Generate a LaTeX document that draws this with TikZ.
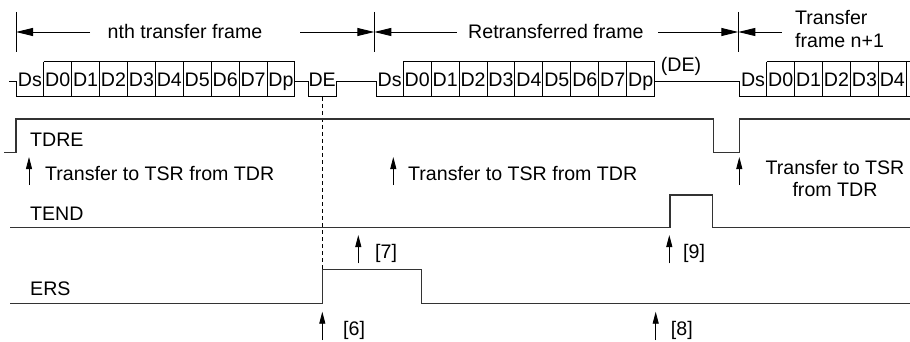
\documentclass[tikz,border=0pt]{standalone}
\usepackage{fontspec}
\setmainfont{Liberation Sans}
\usetikzlibrary{arrows.meta}
\begin{document}
\begin{tikzpicture}[x=1pt,y=-1pt,
  lbl/.style={inner sep=0pt,font=\fontsize{19.6}{21}\selectfont},
  cell/.style={inner sep=0pt,anchor=base,font=\fontsize{19.6}{21}\selectfont},
  wave/.style={line width=1.4pt,draw=black!80},
  data/.style={line width=1pt,draw=black},
  dim/.style={line width=0.9pt,-{Triangle[length=17pt,width=8pt]}},
  tick/.style={line width=0.9pt},
  evt/.style={line width=0.9pt,-{Triangle[length=12pt,width=6pt]}}]
\useasboundingbox (0,0) rectangle (910,342);
% ---------- frame dimension arrows ----------
\coordinate (b1) at (16,32); \coordinate (b2) at (374.3,32); \coordinate (b3) at (738.3,32);
\draw[tick] (16,12) -- (16,52);
\draw[tick] (374.3,12) -- (374.3,52);
\draw[tick] (738.3,12) -- (738.3,52);
\coordinate (a1) at (90,32); \coordinate (a2) at (300,32);
\coordinate (a3) at (456.7,32); \coordinate (a4) at (658,32); \coordinate (a5) at (781.7,32);
\draw[dim] (a1) -- (b1);
\draw[dim] (a2) -- (b2);
\draw[dim] (a3) -- (b2);
\draw[dim] (a4) -- (b3);
\draw[dim] (a5) -- (b3);
\node[lbl,anchor=base] (fn) at (185,39) {nth transfer frame};
\node[lbl,anchor=base west] (fr) at (468,39) {Retransferred frame};
\node[lbl,anchor=base west] (f1a) at (795,25) {Transfer};
\node[lbl,anchor=base west] (f1b) at (795,48) {frame n+1};
% ---------- data row ----------
\def\cw{27.92}
% frame n
\draw[data] (9.3,82) -- (16,82) -- (16,97) -- (295,97);
\draw[data] (43.7,62) -- (295,62);
\foreach \k in {0,...,9} \draw[data] ({43.7+\k*\cw},62) -- ({43.7+\k*\cw},97);
\node[cell] (n0) at (29.85,86.7) {Ds};
\foreach \t [count=\k from 0] in {D0,D1,D2,D3,D4,D5,D6,D7,Dp}
  \node[cell] (n\t) at ({43.7+(\k+0.5)*\cw},86.7) {\t};
% DE
\draw[data] (295,82) -- (308.3,82) -- (308.3,97) -- (336,97) -- (336,82) -- (376,82) -- (376,97) -- (654.6,97);
\node[cell] (de) at (322.2,86.7) {DE};
% retransferred frame
\draw[data] (403.3,62) -- (654.6,62);
\foreach \k in {0,...,9} \draw[data] ({403.3+\k*\cw},62) -- ({403.3+\k*\cw},97);
\node[cell] (r0) at (389.6,86.7) {Ds};
\foreach \t [count=\k from 0] in {D0,D1,D2,D3,D4,D5,D6,D7,Dp}
  \node[cell] (r\t) at ({403.3+(\k+0.5)*\cw},86.7) {\t};
% idle + frame n+1
\draw[data] (654.6,82) -- (739.3,82) -- (739.3,97) -- (910,97);
\node[cell] (dep) at (681,72) {(DE)};
\draw[data] (766.7,62) -- (910,62);
\foreach \k in {0,...,5} \draw[data] ({766.7+\k*\cw},62) -- ({766.7+\k*\cw},97);
\node[cell] (m0) at (753,86.7) {Ds};
\foreach \t [count=\k from 0] in {D0,D1,D2,D3,D4}
  \node[cell] (m\t) at ({766.7+(\k+0.5)*\cw},86.7) {\t};
% ---------- dashed marker ----------
\draw[line width=0.8pt,dash pattern=on 4pt off 3pt] (322.5,97) -- (322.5,269.3);
% ---------- TDRE ----------
\draw[wave] (4,152.3) -- (16,152.3) -- (16,119) -- (713.3,119) -- (713.3,152.3) -- (739.3,152.3) -- (739.3,119) -- (910,119);
\node[lbl,anchor=base west] (tdre) at (30,146.7) {TDRE};
\coordinate (t1s) at (29,185); \coordinate (t1e) at (29,157);
\draw[evt] (t1s) -- (t1e);
\node[lbl,anchor=base west] (tx1) at (45,180) {Transfer to TSR from TDR};
\coordinate (t2s) at (393.3,185); \coordinate (t2e) at (393.3,157);
\draw[evt] (t2s) -- (t2e);
\node[lbl,anchor=base west] (tx2) at (408,180) {Transfer to TSR from TDR};
\coordinate (t3s) at (739.3,185); \coordinate (t3e) at (739.3,157);
\draw[evt] (t3s) -- (t3e);
\node[lbl,anchor=base] (tx3a) at (835,175) {Transfer to TSR};
\node[lbl,anchor=base] (tx3b) at (835,196.7) {from TDR};
% ---------- TEND ----------
\draw[wave] (10,227.7) -- (670,227.7) -- (670,195) -- (712.7,195) -- (712.7,227.7) -- (910,227.7);
\node[lbl,anchor=base west] (tend) at (30,220) {TEND};
% ---------- ERS ----------
\draw[wave] (10,303.3) -- (322.3,303.3) -- (322.3,269.3) -- (421.7,269.3) -- (421.7,303.3) -- (910,303.3);
\node[lbl,anchor=base west] (ers) at (30,295) {ERS};
% ---------- event arrows ----------
\coordinate (e7s) at (358.3,263.3); \coordinate (e7e) at (358.3,235);
\draw[evt] (e7s) -- (e7e);
\node[lbl,anchor=base west] (l7) at (375,258) {[7]};
\coordinate (e6s) at (322.3,340); \coordinate (e6e) at (322.3,311.7);
\draw[evt] (e6s) -- (e6e);
\node[lbl,anchor=base west] (l6) at (343,335) {[6]};
\coordinate (e9s) at (669.3,263.3); \coordinate (e9e) at (669.3,235);
\draw[evt] (e9s) -- (e9e);
\node[lbl,anchor=base west] (l9) at (683,258) {[9]};
\coordinate (e8s) at (655.7,340); \coordinate (e8e) at (655.7,311.7);
\draw[evt] (e8s) -- (e8e);
\node[lbl,anchor=base west] (l8) at (670.7,335) {[8]};
\end{tikzpicture}
\end{document}
